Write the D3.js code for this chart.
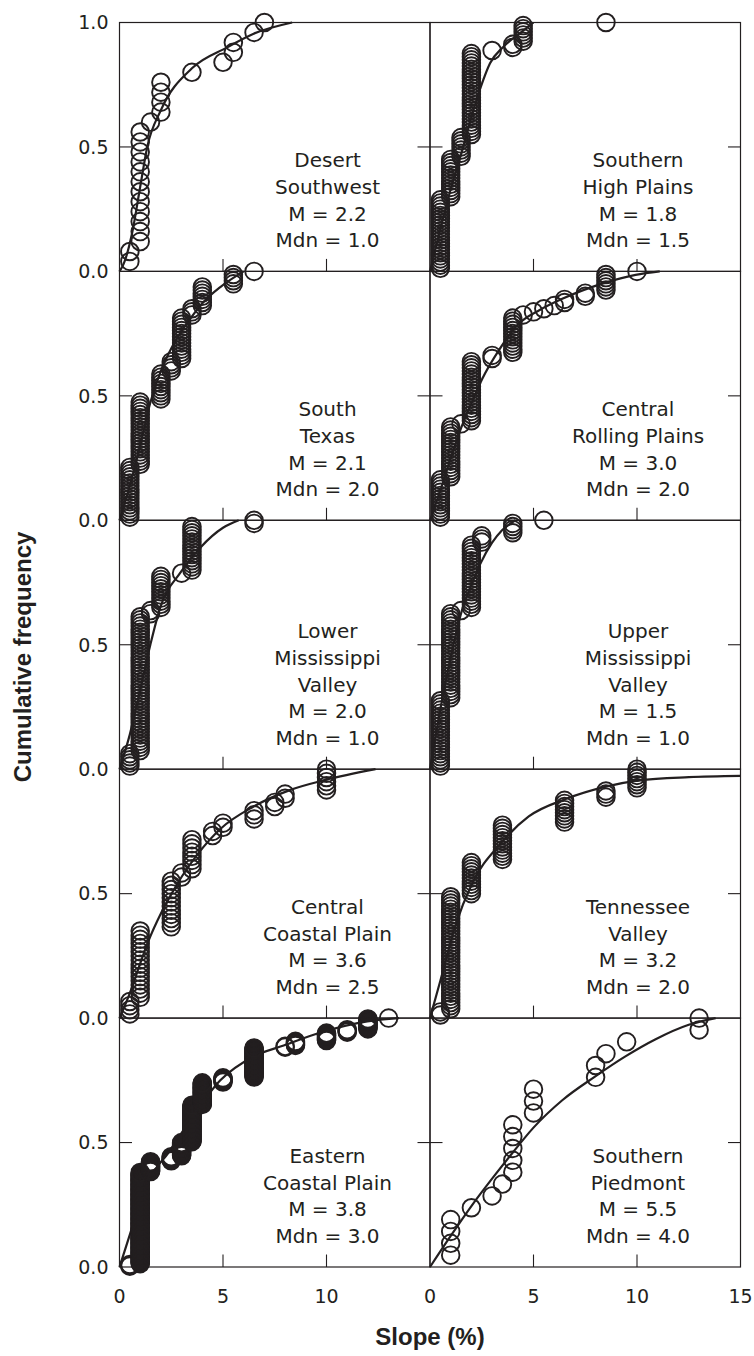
<!DOCTYPE html>
<html>
<head>
<meta charset="utf-8">
<script src="https://cdn.jsdelivr.net/npm/d3@7"></script>
<style>
  body { margin: 0; background: #fff; }
  svg text { fill: #231f20; }
</style>
</head>
<body>
<svg id="chart" width="754" height="1356"></svg>
<script>
// Region labels, one entry per panel (left to right, top to bottom)
const regionLines = [
  ["Desert", "Southwest"], ["Southern", "High Plains"],
  ["South", "Texas"], ["Central", "Rolling Plains"],
  ["Lower", "Mississippi", "Valley"], ["Upper", "Mississippi", "Valley"],
  ["Central", "Coastal Plain"], ["Tennessee", "Valley"],
  ["Eastern", "Coastal Plain"], ["Southern", "Piedmont"]
];
const regionMean   = ["2.2", "1.8", "2.1", "3.0", "2.0", "1.5", "3.6", "3.2", "3.8", "5.5"];
const regionMedian = ["1.0", "1.5", "2.0", "2.0", "1.0", "1.0", "2.5", "2.0", "3.0", "4.0"];

// Observed slope classes (%) and number of sites in each class
const slopeClass = [
  [0.5, 1, 1.5, 2, 3.5, 5, 5.5, 6.5, 7],
  [0.5, 1, 1.5, 2, 3, 4, 4.5, 8.5],
  [0.5, 1, 2, 2.5, 3, 3.5, 4, 5.5, 6.5],
  [0.5, 1, 1.5, 2, 3, 4, 4.5, 5, 5.5, 6, 6.5, 7.5, 8.5, 10],
  [0.5, 1, 1.5, 2, 3, 3.5, 6.5],
  [0.5, 1, 1.5, 2, 2.5, 4, 5.5],
  [0.5, 1, 2.5, 3, 3.5, 4.5, 5, 6.5, 7.5, 8, 10],
  [0.5, 1, 2, 3.5, 6.5, 8.5, 10],
  [0.5, 1, 1.5, 2.5, 3, 3.5, 4, 5, 6.5, 8, 8.5, 10, 11, 12, 13],
  [1, 2, 3, 3.5, 4, 5, 8, 8.5, 9.5, 13]
];
const siteCount = [
  [2, 12, 1, 4, 1, 1, 2, 1, 1],
  [23, 13, 7, 27, 1, 2, 6, 1],
  [17, 21, 9, 4, 14, 3, 7, 4, 1],
  [13, 17, 1, 20, 2, 12, 1, 1, 1, 1, 2, 2, 6, 1],
  [5, 44, 2, 11, 1, 15, 2],
  [22, 28, 1, 21, 3, 4, 1],
  [4, 17, 12, 2, 8, 2, 2, 3, 2, 2, 6],
  [2, 37, 11, 12, 8, 3, 7],
  [3, 111, 13, 6, 17, 45, 27, 6, 36, 2, 6, 10, 4, 13, 1],
  [4, 1, 1, 1, 5, 3, 2, 1, 1, 2]
];

// Fitted curves, points
const fitX = [
  [0, 0.2, 0.6, 1.0, 1.34, 2.0, 3.5, 5.2, 6.48, 8.34],
  [0, 0.5, 1, 1.5, 2, 2.45, 2.9, 3.55, 4.35, 5.0],
  [0, 0.5, 1, 1.48, 2, 2.5, 3, 3.42, 4.06, 4.87, 6.0],
  [0, 0.5, 1, 1.5, 2, 2.52, 3.3, 4.29, 5.3, 6.39, 8.48, 9.93, 11.1],
  [0, 0.5, 1.0, 1.49, 1.97, 2.94, 3.9, 5.0, 5.76],
  [0, 0.5, 1, 1.55, 2, 2.43, 3, 3.48, 4.13],
  [0, 0.5, 1, 1.4, 2, 2.45, 3.02, 3.74, 4.87, 6.48, 8.26, 9.95, 12.37],
  [0, 0.5, 1.22, 2.03, 3.4, 4.77, 6.55, 8.5, 10.1, 12.5, 15],
  [0, 0.5, 1, 1.5, 2.37, 3.42, 4.87, 6.48, 7.93, 9.87, 11.97, 13.5],
  [0, 1, 2, 3, 4, 5, 6.39, 7.97, 9.42, 10.9, 12.5, 13.8]
];
const fitY = [
  [0, 0.03, 0.15, 0.34, 0.5, 0.648, 0.816, 0.90, 0.955, 1.0],
  [0, 0.17, 0.33, 0.47, 0.62, 0.74, 0.836, 0.903, 0.957, 1.0],
  [0, 0.14, 0.3, 0.47, 0.6, 0.69, 0.76, 0.81, 0.877, 0.937, 1.0],
  [0, 0.12, 0.25, 0.37, 0.47, 0.568, 0.68, 0.79, 0.845, 0.89, 0.955, 0.986, 1.0],
  [0, 0.14, 0.32, 0.5, 0.65, 0.79, 0.89, 0.97, 1.0],
  [0, 0.24, 0.45, 0.64, 0.74, 0.825, 0.91, 0.96, 1.0],
  [0, 0.1, 0.22, 0.31, 0.42, 0.49, 0.57, 0.655, 0.76, 0.85, 0.917, 0.957, 1.0],
  [0, 0.15, 0.37, 0.54, 0.70, 0.81, 0.88, 0.93, 0.955, 0.968, 0.973],
  [0, 0.13, 0.26, 0.36, 0.46, 0.59, 0.75, 0.846, 0.89, 0.946, 0.987, 1.0],
  [0, 0.125, 0.245, 0.355, 0.46, 0.56, 0.67, 0.765, 0.845, 0.915, 0.973, 1.0]
];

const xTicks = [0, 5, 10, 15];
const yTicks = [0, 0.5, 1];

// layout
const marginLeft = 119.5, marginTop = 22.5;
const PW = 310.5, PH = 248.9;
const TICK = 12.5;
const ink = "#231f20";

const svg = d3.select("#chart");
const x = d3.scaleLinear().domain([0, 15]).range([0, PW]);
const y = d3.scaleLinear().domain([0, 1]).range([PH, 0]);
const fmt = d3.format(".1f");

const line = d3.line()
  .x(d => x(d[0]))
  .y(d => y(d[1]))
  .curve(d3.curveMonotoneX);

regionLines.forEach((lines, i) => {
  const col = i % 2, row = Math.floor(i / 2);
  const g = svg.append("g")
    .attr("transform", `translate(${marginLeft + col * PW},${marginTop + row * PH})`);

  // frame
  g.append("rect")
    .attr("width", PW).attr("height", PH)
    .attr("fill", "none").attr("stroke", ink).attr("stroke-width", 1.2);

  // inward ticks: 5 and 10 on the bottom, 0.5 on both sides
  g.selectAll("line.xt").data(xTicks.filter(t => t > 0 && t < 15)).join("line")
    .attr("class", "xt")
    .attr("x1", d => x(d)).attr("x2", d => x(d))
    .attr("y1", PH).attr("y2", PH - TICK)
    .attr("stroke", ink).attr("stroke-width", 1.1);
  g.selectAll("line.yt").data([0, PW]).join("line")
    .attr("class", "yt")
    .attr("x1", d => d).attr("x2", d => d === 0 ? TICK : PW - TICK)
    .attr("y1", y(0.5)).attr("y2", y(0.5))
    .attr("stroke", ink).attr("stroke-width", 1.1);

  // y tick labels on the left column only
  if (col === 0) {
    const labs = row === 0 ? yTicks : yTicks.filter(t => t < 1);
    g.selectAll("text.yl").data(labs).join("text")
      .attr("class", "yl")
      .attr("x", -11).attr("y", d => y(d))
      .attr("dy", "0.36em")
      .attr("text-anchor", "end")
      .style("font-family", "'DejaVu Sans', sans-serif")
      .style("font-size", "19px")
      .text(d => fmt(d));
  }

  // x tick labels on the bottom row
  if (row === 4) {
    const labs = col === 0 ? xTicks.filter(t => t < 15) : xTicks;
    g.selectAll("text.xl").data(labs).join("text")
      .attr("class", "xl")
      .attr("x", d => x(d)).attr("y", PH + 36)
      .attr("text-anchor", "middle")
      .style("font-family", "'DejaVu Sans', sans-serif")
      .style("font-size", "19px")
      .text(d => d);
  }

  // fitted curve
  const fit = d3.zip(fitX[i], fitY[i]);
  g.append("path")
    .attr("d", line(fit))
    .attr("fill", "none").attr("stroke", ink).attr("stroke-width", 2.2);

  // cumulative frequency of sites
  const n = d3.sum(siteCount[i]);
  let k = 0;
  const pts = [];
  slopeClass[i].forEach((s, j) => {
    for (let c = 0; c < siteCount[i][j]; c++) {
      k += 1;
      pts.push([s, k / n]);
    }
  });
  g.selectAll("circle").data(pts).join("circle")
    .attr("cx", d => x(d[0])).attr("cy", d => y(d[1]))
    .attr("r", 8.8)
    .attr("fill", "none").attr("stroke", ink).attr("stroke-width", 1.9);

  // region label
  const txt = lines.concat([`M = ${regionMean[i]}`, `Mdn = ${regionMedian[i]}`]);
  const lh = 26.7;
  g.append("g").selectAll("text").data(txt).join("text")
    .attr("x", 208)
    .attr("y", (d, j) => PH - 24 - (txt.length - 1 - j) * lh)
    .attr("text-anchor", "middle")
    .style("font-family", "'DejaVu Sans', sans-serif")
    .style("font-size", "20px")
    .text(d => d);
});

// axis titles
svg.append("text")
  .attr("transform", `translate(31,657) rotate(-90)`)
  .attr("text-anchor", "middle")
  .style("font-family", "'Liberation Sans', Arial, sans-serif")
  .style("font-weight", "bold")
  .style("font-size", "24px")
  .text("Cumulative frequency");

svg.append("text")
  .attr("x", 430).attr("y", 1345)
  .attr("text-anchor", "middle")
  .style("font-family", "'Liberation Sans', Arial, sans-serif")
  .style("font-weight", "bold")
  .style("font-size", "24px")
  .text("Slope (%)");
</script>
</body>
</html>
